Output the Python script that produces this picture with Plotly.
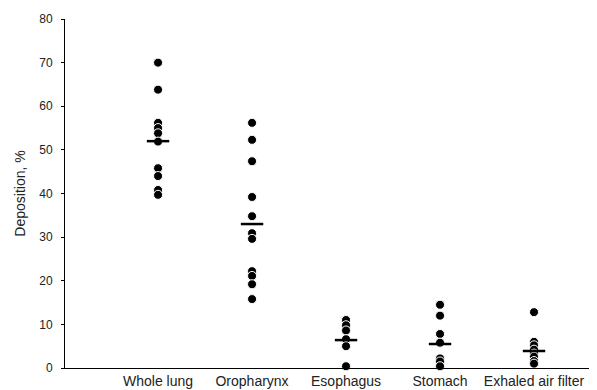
import plotly.graph_objects as go

categories = ["Whole lung", "Oropharynx", "Esophagus", "Stomach", "Exhaled air filter"]

whole_lung = [70.0, 63.8, 56.2, 55.0, 53.8, 51.9, 45.8, 44.0, 40.8, 39.7]
oropharynx = [56.2, 52.3, 47.4, 39.2, 34.8, 30.9, 29.6, 22.2, 21.1, 19.2, 15.8]
esophagus = [11.0, 9.8, 8.6, 6.6, 5.0, 0.4]
stomach = [14.5, 12.0, 7.8, 5.8, 2.2, 1.5, 0.4]
exhaled = [12.8, 6.0, 5.2, 4.2, 3.3, 2.6, 1.6, 1.0]

means = [52.0, 33.0, 6.4, 5.5, 3.9]

series = [whole_lung, oropharynx, esophagus, stomach, exhaled]

fig = go.Figure()

for i, vals in enumerate(series):
    fig.add_trace(go.Scatter(
        x=[i] * len(vals), y=vals, mode="markers",
        marker=dict(color="black", size=9, line=dict(color="white", width=1)),
        cliponaxis=False, showlegend=False, hoverinfo="y",
    ))

fig.add_trace(go.Scatter(
    x=list(range(len(categories))), y=means, mode="markers",
    marker=dict(symbol="line-ew", size=16, color="black",
                line=dict(color="black", width=2.5)),
    cliponaxis=False, showlegend=False, hoverinfo="y",
))

# page body has an 8px margin, so the figure is sized to fit the remaining window
fig.update_layout(
    width=589, height=382,
    margin=dict(l=57, r=0, t=10.5, b=22),
    plot_bgcolor="white", paper_bgcolor="white",
    font=dict(family="Liberation Sans, Arial, sans-serif", size=13, color="#222"),
    xaxis=dict(
        range=[-0.99, 4.67], tickmode="array",
        tickvals=list(range(len(categories))), ticktext=categories,
        showgrid=False, zeroline=False, showline=True, linecolor="black",
        linewidth=1, ticks="", tickfont=dict(size=14, color="#222"),
    ),
    yaxis=dict(
        range=[0, 80], tickmode="array", tickvals=[0, 10, 20, 30, 40, 50, 60, 70, 80],
        showgrid=False, zeroline=False, showline=True, linecolor="black",
        linewidth=1, ticks="outside", ticklen=3, tickcolor="black",
        ticklabelstandoff=6,
        tickfont=dict(size=12, color="#222"),
        title=dict(text="Deposition, %", font=dict(size=14, color="#222"), standoff=10),
    ),
)

fig.write_html("out.html")
